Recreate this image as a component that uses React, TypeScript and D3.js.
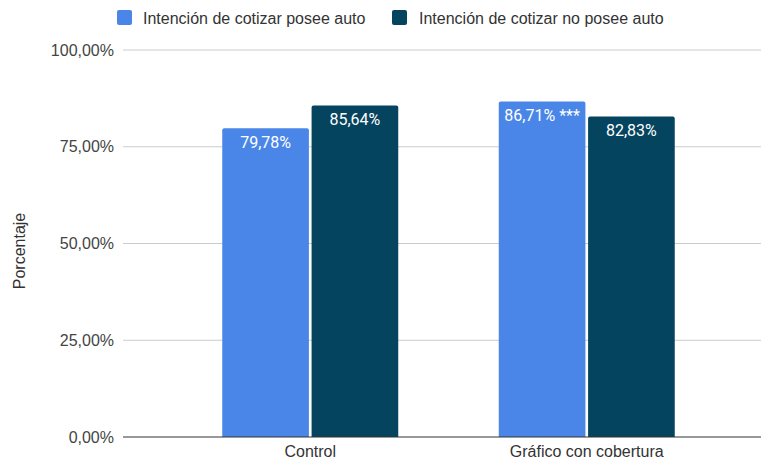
import React from "react";
import * as d3 from "d3";

const categories = ["Control", "Gráfico con cobertura"];
const seriesNames = ["Intención de cotizar posee auto", "Intención de cotizar no posee auto"];
const seriesPosee = [79.78, 86.71];
const seriesNoPosee = [85.64, 82.83];
const labelsPosee = ["79,78%", "86,71% ***"];
const labelsNoPosee = ["85,64%", "82,83%"];
const yTicks = [0, 25, 50, 75, 100];
const colors = ["#4a86e8", "#05445f"];

const W = 761;
const H = 461;
const FONT = "'Liberation Sans', Arial, sans-serif";

export default function App() {
  const y = d3.scaleLinear().domain([0, 100]).range([437, 50]);
  const x0 = d3.scaleBand<string>().domain(categories).range([172, 725]);
  const x1 = d3.scaleBand<number>().domain([0, 1]).range([0, 176]).paddingInner(0.03);
  const values = [seriesPosee, seriesNoPosee];
  const labels = [labelsPosee, labelsNoPosee];
  const fmt = (v: number) => d3.format(".2f")(v).replace(".", ",") + "%";

  const barPath = (x: number, yt: number, w: number, yb: number, r: number) =>
    `M${x},${yb}V${yt + r}Q${x},${yt} ${x + r},${yt}H${x + w - r}Q${x + w},${yt} ${x + w},${yt + r}V${yb}Z`;

  return (
    <svg width={W} height={H} style={{ position: "absolute", left: 0, top: 0, background: "#fff" }}>
      {/* legend */}
      <g fontFamily={FONT} fontSize={16} fill="#333">
        <rect x={117} y={10} width={15} height={15} rx={2} fill={colors[0]} />
        <text x={143} y={24}>{seriesNames[0]}</text>
        <rect x={392} y={10} width={15} height={15} rx={2} fill={colors[1]} />
        <text x={419} y={24}>{seriesNames[1]}</text>
      </g>
      {/* grid */}
      {yTicks.map((t) => (
        <g key={t}>
          {t !== 0 && <line x1={123} x2={761} y1={y(t)} y2={y(t)} stroke="#cccccc" strokeWidth={1} />}
          <text x={114} y={y(t) + 5.5} textAnchor="end" fontFamily={FONT} fontSize={16} fill="#444">
            {fmt(t)}
          </text>
        </g>
      ))}
      <text
        transform="translate(25,251) rotate(-90)"
        textAnchor="middle"
        fontFamily={FONT}
        fontSize={16}
        fill="#333"
      >
        Porcentaje
      </text>
      {/* bars */}
      {categories.map((c, ci) => {
        const gx = (x0(c) ?? 0) + (x0.bandwidth() - 176) / 2;
        return (
          <g key={c}>
            {values.map((vals, si) => {
              const bx = gx + (x1(si) ?? 0);
              const bw = x1.bandwidth();
              const yt = y(vals[ci]);
              return (
                <g key={si}>
                  <path d={barPath(bx, yt, bw, y(0), 2)} fill={colors[si]} />
                  <text
                    x={bx + bw / 2}
                    y={yt + 19.5}
                    textAnchor="middle"
                    fontFamily="Roboto, sans-serif"
                    fontSize={16}
                    fill="#ffffff"
                  >
                    {labels[si][ci]}
                  </text>
                </g>
              );
            })}
            <text
              x={(x0(c) ?? 0) + x0.bandwidth() / 2}
              y={457}
              textAnchor="middle"
              fontFamily={FONT}
              fontSize={16}
              fill="#333"
            >
              {c}
            </text>
          </g>
        );
      })}
      <line x1={123} x2={761} y1={y(0)} y2={y(0)} stroke="#333" strokeWidth={1} />
    </svg>
  );
}
